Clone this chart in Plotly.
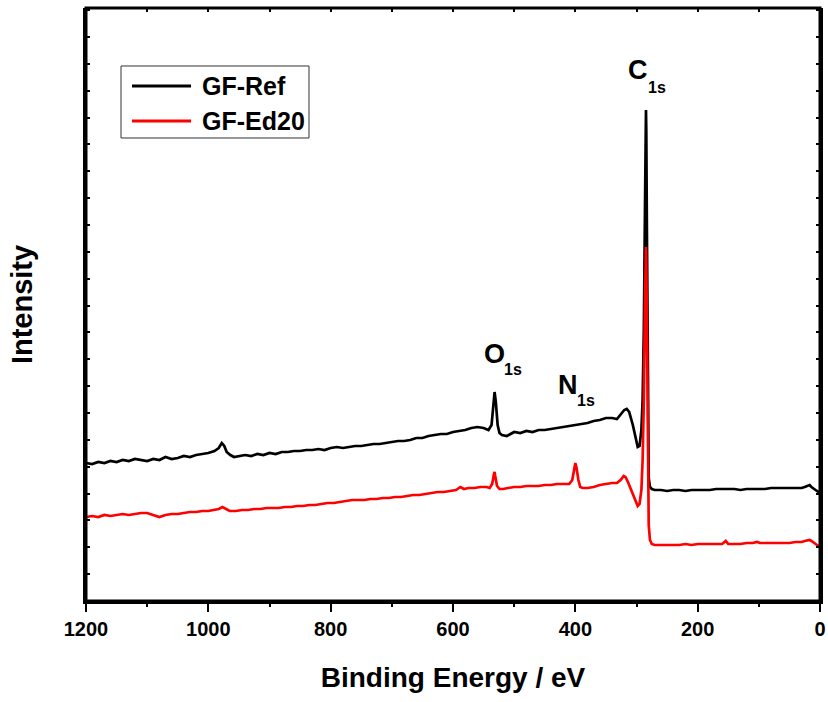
import plotly.graph_objects as go

# Binding energy (eV) and intensity (a.u.)
energy_ref = [1200, 1190, 1180, 1170, 1160, 1150, 1140, 1130, 1120, 1110, 1100, 1090, 1080, 1070, 1060,
              1050, 1040, 1030, 1020, 1010, 1000, 990, 983, 978, 974, 970, 964, 958, 950, 940, 930, 920,
              910, 900, 890, 880, 870, 860, 850, 840, 830, 820, 810, 800, 790, 780, 770, 760, 750, 740,
              730, 720, 710, 700, 690, 680, 670, 660, 650, 640, 630, 620, 610, 600, 590, 580, 570, 560,
              550, 542, 537, 534, 532, 530, 527, 524, 520, 512, 505, 500, 490, 480, 470, 460, 450, 440,
              430, 420, 410, 400, 390, 380, 370, 360, 350, 340, 332, 325, 320, 316, 312, 306, 302, 298,
              295, 292, 290, 288, 286, 285, 284.5, 284, 283, 282, 281, 280, 278, 275, 270, 260, 250, 240,
              230, 220, 210, 200, 190, 180, 170, 160, 150, 140, 130, 120, 110, 100, 90, 80, 70, 60, 50,
              40, 30, 25, 20, 17, 14, 10, 5, 0]
intensity_ref = [138, 137, 139, 138, 140, 139, 141, 140, 142, 141, 140, 142, 141, 144, 142,
                 143, 145, 144, 146, 147, 148, 150, 153, 158, 155, 149, 146, 144, 145, 146, 145, 147,
                 146, 148, 147, 149, 149, 150, 150, 151, 151, 152, 151, 153, 154, 153, 154, 155, 155, 156,
                 157, 157, 158, 159, 160, 160, 161, 163, 163, 165, 166, 167, 167, 169, 170, 171, 173, 174,
                 173, 171, 176, 196, 209, 199, 176, 168, 166, 165, 167, 169, 168, 170, 169, 171, 171, 172,
                 173, 174, 175, 176, 177, 178, 180, 181, 183, 183, 182, 187, 191, 192, 189, 176, 163, 154,
                 155, 171, 201, 271, 401, 471, 491, 471, 371, 241, 161, 123, 114, 112, 111, 111, 110, 111,
                 111, 110, 111, 111, 111, 111, 112, 112, 112, 112, 111, 112, 112, 112, 112, 113, 113, 113, 113,
                 113, 113, 114, 115, 116, 114, 112, 110, 108]

energy_ed20 = [1200, 1190, 1180, 1170, 1160, 1150, 1140, 1130, 1120, 1110, 1100, 1090, 1080, 1070, 1060,
               1050, 1040, 1030, 1020, 1010, 1000, 990, 983, 977, 972, 965, 955, 945, 935, 925, 915, 905,
               895, 885, 875, 865, 855, 845, 835, 825, 815, 805, 795, 785, 775, 765, 755, 745, 735, 725,
               715, 705, 695, 685, 675, 665, 655, 645, 635, 625, 615, 605, 595, 588, 582, 575, 565, 555,
               545, 540, 536, 533, 532, 531, 528, 524, 518, 510, 500, 490, 480, 470, 460, 450, 440, 430,
               420, 410, 405, 402, 400, 398, 395, 392, 388, 380, 370, 360, 350, 340, 332, 326, 321, 318,
               314, 310, 305, 300, 298, 295, 292, 290, 288, 286, 285, 284.5, 284, 283, 282, 281, 280, 278,
               275, 270, 260, 250, 240, 230, 220, 210, 200, 190, 180, 170, 160, 154, 150, 140, 130, 120,
               110, 103, 98, 90, 80, 70, 60, 50, 40, 30, 25, 20, 17, 14, 10, 5, 0]
intensity_ed20 = [84, 85, 84, 86, 85, 86, 87, 86, 87, 88, 88, 86, 84, 86, 87,
                  87, 88, 89, 89, 90, 90, 91, 92, 94, 92, 90, 90, 91, 91, 92, 92, 93,
                  93, 93, 94, 94, 95, 95, 96, 96, 97, 98, 98, 99, 100, 101, 101, 101, 102, 102,
                  103, 103, 104, 104, 105, 106, 106, 107, 108, 109, 109, 110, 111, 114, 112, 113, 113, 114,
                  114, 113, 117, 127, 129, 125, 115, 112, 112, 113, 114, 114, 115, 115, 115, 116, 116, 117,
                  117, 117, 121, 133, 138, 133, 121, 114, 113, 113, 114, 116, 117, 118, 118, 121, 125, 124,
                  119, 113, 105, 97, 95, 97, 111, 141, 201, 301, 341, 354, 339, 281, 181, 111, 76, 61,
                  57, 56, 56, 56, 56, 56, 57, 56, 57, 57, 57, 57, 57, 60, 57, 57, 57, 58,
                  58, 59, 58, 58, 58, 58, 58, 58, 59, 59, 60, 61, 61, 60, 58, 56, 54]

series_names = ["GF-Ref", "GF-Ed20"]
series_colors = ["#000000", "#ff0000"]

# Peak labels: letter, letter position, subscript position (data coords)
peak_letters = ["C", "O", "N"]
peak_letter_pos = [(298.3, 531), (532.9, 247), (411.2, 216)]
peak_sub_pos = [(267.3, 514), (501.9, 232), (382.6, 201)]

FONT = "Arial, 'Liberation Sans', sans-serif"

fig = go.Figure()
# invisible carrier so the top (minor-tick) axis is rendered
fig.add_trace(go.Scatter(x=energy_ref, y=intensity_ref, xaxis="x2", mode="lines",
                         line=dict(width=0), opacity=0, showlegend=False, hoverinfo="skip"))
fig.add_trace(go.Scatter(x=energy_ref, y=intensity_ref, mode="lines", name=series_names[0],
                         line=dict(color=series_colors[0], width=2.7), showlegend=False))
fig.add_trace(go.Scatter(x=energy_ed20, y=intensity_ed20, mode="lines", name=series_names[1],
                         line=dict(color=series_colors[1], width=2.7), showlegend=False))

annotations = []
for letter, (lx, ly), (sx, sy) in zip(peak_letters, peak_letter_pos, peak_sub_pos):
    annotations.append(dict(x=lx, y=ly, xref="x", yref="y", text=letter, showarrow=False,
                            xanchor="center", yanchor="middle",
                            font=dict(family=FONT, size=27, color="black", weight="bold")))
    annotations.append(dict(x=sx, y=sy, xref="x", yref="y", text="1s", showarrow=False,
                            xanchor="center", yanchor="middle",
                            font=dict(family=FONT, size=16, color="black", weight="bold")))

# Plot frame + custom legend (paper coordinates)
shapes = [dict(type="rect", xref="paper", yref="paper", x0=0, x1=1, y0=0, y1=1,
               line=dict(color="black", width=3), layer="above"),
          dict(type="rect", xref="paper", yref="paper", x0=0.0477, x1=0.3038, y0=0.7808, y1=0.9022,
               line=dict(color="#333333", width=1), fillcolor="white", layer="above")]
legend_rows_y = [0.8685, 0.8094]
for name, color, ry in zip(series_names, series_colors, legend_rows_y):
    shapes.append(dict(type="line", xref="paper", yref="paper", x0=0.0627, x1=0.1431, y0=ry, y1=ry,
                       line=dict(color=color, width=3), layer="above"))
    annotations.append(dict(x=0.1553, y=ry, xref="paper", yref="paper", text=name, showarrow=False,
                            xanchor="left", yanchor="middle",
                            font=dict(family=FONT, size=25, color="black", weight="bold")))

fig.update_layout(
    width=828, height=702,
    margin=dict(l=86, r=8, t=8, b=101, autoexpand=False),
    paper_bgcolor="white", plot_bgcolor="white",
    font=dict(family=FONT, color="black"),
    showlegend=False,
    xaxis=dict(range=[1200, 0], tick0=0, dtick=200, ticks="outside", ticklen=8, tickwidth=2,
               tickcolor="black", showline=True, linewidth=3, linecolor="black", mirror=False,
               showgrid=False, zeroline=False, automargin=False,
               tickfont=dict(family=FONT, size=20, color="black", weight="bold"),
               minor=dict(ticks="outside", dtick=100, tick0=0, ticklen=3, tickwidth=1.5, tickcolor="black"),
               title=dict(text="Binding Energy / eV", standoff=29,
                          font=dict(family=FONT, size=28, color="black", weight="bold"))),
    xaxis2=dict(range=[1200, 0], overlaying="x", side="top", anchor="y", tick0=0, dtick=100,
                ticks="inside", ticklen=4, tickwidth=1.5, tickcolor="black", automargin=False,
                showticklabels=False, showline=False,
                showgrid=False, zeroline=False),
    yaxis=dict(range=[0, 593], tick0=0, dtick=26.86, ticks="inside", ticklen=4, tickwidth=1.5,
               tickcolor="black", showticklabels=False, showline=True, linewidth=3,
               linecolor="black", mirror="ticks", showgrid=False, zeroline=False, automargin=False,
               title=dict(text="Intensity", standoff=42,
                          font=dict(family=FONT, size=29, color="black", weight="bold"))),
    annotations=annotations,
    shapes=shapes,
)

fig.write_html("out.html")
